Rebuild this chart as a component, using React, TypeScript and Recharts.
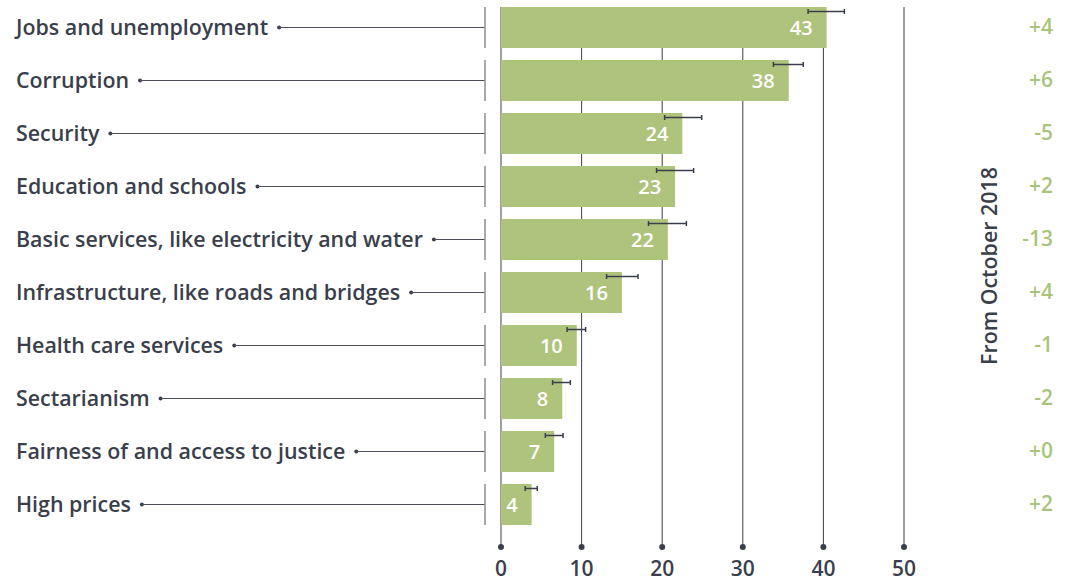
import { BarChart, Bar, XAxis, YAxis, CartesianGrid, LabelList, Label } from 'recharts';

const categories = [
  'Jobs and unemployment',
  'Corruption',
  'Security',
  'Education and schools',
  'Basic services, like electricity and water',
  'Infrastructure, like roads and bridges',
  'Health care services',
  'Sectarianism',
  'Fairness of and access to justice',
  'High prices',
];
// bar lengths as drawn, and the labels printed on them
const shares = [40.4, 35.7, 22.5, 21.6, 20.7, 15.0, 9.4, 7.6, 6.6, 3.8];
const shareLabels = [43, 38, 24, 23, 22, 16, 10, 8, 7, 4];
const errLow = [38.1, 33.8, 20.3, 19.3, 18.3, 13.1, 8.2, 6.4, 5.5, 3.0];
const errHigh = [42.6, 37.5, 24.9, 23.9, 23.0, 17.0, 10.5, 8.6, 7.7, 4.5];
const changes = ['+4', '+6', '-5', '+2', '-13', '+4', '-1', '-2', '+0', '+2'];
const xTicks = [0, 10, 20, 30, 40, 50];

const data = categories.map((name, i) => ({
  name,
  share: shares[i],
  label: shareLabels[i],
  lo: errLow[i],
  hi: errHigh[i],
}));

const FONT = '"Open Sans", sans-serif';
const DARK = '#3a3f4b';
const GREEN = '#aec37b';
const GREEN_TEXT = '#a9c47d';

let ctx: CanvasRenderingContext2D | null = null;
const textWidth = (s: string, font: string) => {
  if (!ctx) ctx = document.createElement('canvas').getContext('2d');
  if (!ctx) return s.length * 11;
  ctx.font = font;
  return ctx.measureText(s).width;
};

const CategoryTick = ({ y, payload }: any) => {
  const w = textWidth(payload.value, `600 21.4px ${FONT}`);
  const dotX = 16 + w + 11;
  return (
    <g>
      <text x={16} y={y} dy="0.33em" textAnchor="start" fontFamily={FONT} fontWeight={600} fontSize={21.4} fill={DARK}>
        {payload.value}
      </text>
      <circle cx={dotX} cy={y} r={2} fill={DARK} />
      <line x1={dotX} x2={485} y1={y} y2={y} stroke="#4a4f5a" strokeWidth={1.2} />
      <line x1={485} x2={485} y1={y - 20.5} y2={y + 20.5} stroke="#8a8d93" strokeWidth={1.5} />
    </g>
  );
};

const ChangeTick = ({ y, index }: any) => (
  <text x={1053} y={y} dy="0.33em" textAnchor="end" fontFamily={FONT} fontWeight={600} fontSize={21} fill={GREEN_TEXT}>
    {changes[index]}
  </text>
);

const ValueTick = ({ x, payload }: any) => (
  <g>
    <circle cx={x} cy={547} r={3} fill={DARK} />
    <text x={x} y={569} dy="0.33em" textAnchor="middle" fontFamily={FONT} fontWeight={600} fontSize={21} fill={DARK}>
      {payload.value}
    </text>
  </g>
);

const BarWithError = (props: any) => {
  const { x, y, width, height, payload } = props;
  const k = width / payload.share;
  const ey = y + 4.5;
  const x1 = x + payload.lo * k;
  const x2 = x + payload.hi * k;
  return (
    <g>
      <rect x={x} y={y} width={width} height={height} fill={GREEN} />
      <line x1={x1} x2={x2} y1={ey} y2={ey} stroke={DARK} strokeWidth={1.5} />
      <line x1={x1} x2={x1} y1={ey - 2.5} y2={ey + 2.5} stroke={DARK} strokeWidth={1.5} />
      <line x1={x2} x2={x2} y1={ey - 2.5} y2={ey + 2.5} stroke={DARK} strokeWidth={1.5} />
    </g>
  );
};

const BarLabel = (props: any) => {
  const { x, y, width, height, value } = props;
  return (
    <text x={x + width - 14} y={y + height / 2} dy="0.35em" textAnchor="end" fontFamily={FONT} fontWeight={600} fontSize={20} fill="#ffffff">
      {value}
    </text>
  );
};

const GridLine = (p: any) => (
  <line key={p.key} x1={p.x1} x2={p.x2} y1={7} y2={547} stroke={DARK} strokeWidth={1} />
);

export default function App() {
  return (
    <div style={{ position: 'absolute', left: 0, top: 0, background: '#fff' }}>
      <BarChart
        width={1066}
        height={580}
        data={data}
        layout="vertical"
        margin={{ top: 1, right: 0, bottom: 0, left: 0 }}
      >
        <CartesianGrid horizontal={false} vertical={GridLine} />
        <XAxis
          type="number"
          domain={[0, 50]}
          ticks={xTicks}
          height={49}
          axisLine={false}
          tickLine={false}
          tick={<ValueTick />}
        />
        <YAxis
          type="category"
          dataKey="name"
          width={501}
          axisLine={false}
          tickLine={false}
          interval={0}
          tick={<CategoryTick />}
        />
        <YAxis
          yAxisId="right"
          orientation="right"
          type="category"
          dataKey="name"
          width={162}
          axisLine={false}
          tickLine={false}
          interval={0}
          tick={<ChangeTick />}
        >
          <Label
            content={({ viewBox }: any) => (
              <text
                x={viewBox.x + 86}
                y={viewBox.y + viewBox.height / 2}
                dy="0.35em"
                textAnchor="middle"
                transform={`rotate(-90, ${viewBox.x + 86}, ${viewBox.y + viewBox.height / 2})`}
                fontFamily={FONT}
                fontWeight={600}
                fontSize={21.4}
                fill={DARK}
              >
                From October 2018
              </text>
            )}
          />
        </YAxis>
        <Bar dataKey="share" barSize={41} shape={<BarWithError />} isAnimationActive={false}>
          <LabelList dataKey="label" content={<BarLabel />} />
        </Bar>
      </BarChart>
    </div>
  );
}
